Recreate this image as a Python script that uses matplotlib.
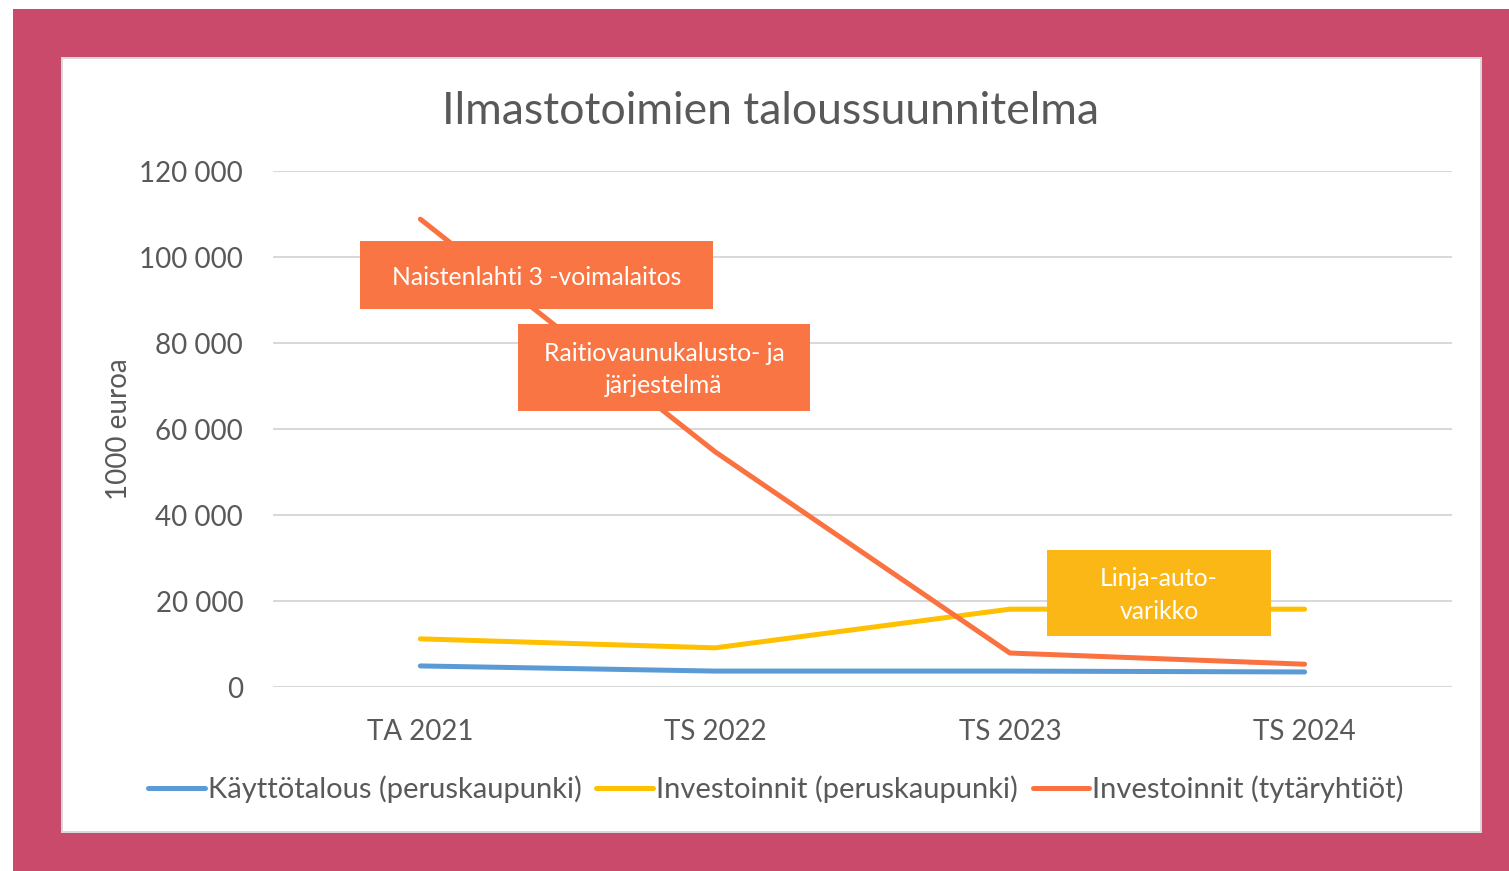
import matplotlib.pyplot as plt
from matplotlib.patches import Rectangle

plt.rcParams['font.family'] = ['Lato', 'DejaVu Sans']

categories = ['TA 2021', 'TS 2022', 'TS 2023', 'TS 2024']
kayttotalous = [4900, 3700, 3700, 3500]
investoinnit_perus = [11200, 9100, 18100, 18100]
investoinnit_tytar = [108800, 54700, 7900, 5300]
series_names = ['Käyttötalous (peruskaupunki)', 'Investoinnit (peruskaupunki)',
                'Investoinnit (tytäryhtiöt)']
yticks = [0, 20000, 40000, 60000, 80000, 100000, 120000]

text_gray = '#595959'
colors = ['#5B9BD5', '#FFC000', '#FB7241']

W, H = 1509, 871
fig = plt.figure(figsize=(W / 100, H / 100), dpi=100)
fig.patch.set_facecolor('white')

# pink frame and white panel (pixel coords of the picture, top-left origin)
def px_rect(x0, y0, x1, y1, **kw):
    return Rectangle((x0 / W, 1 - y1 / H), (x1 - x0) / W, (y1 - y0) / H,
                     transform=fig.transFigure, **kw)

fig.patches.append(px_rect(13, 9, 1509, 871, facecolor='#C94A6B', edgecolor='none', zorder=-12))
fig.patches.append(px_rect(61, 57, 1482, 833, facecolor='#D9D9D9', edgecolor='none', zorder=-11))
fig.patches.append(px_rect(63, 59, 1480, 831, facecolor='white', edgecolor='none', zorder=-10))

ax = fig.add_axes([273 / W, 1 - 687 / H, (1452 - 273) / W, (687 - 171) / H])
ax.set_facecolor('none')

x = [i + 0.5 for i in range(len(categories))]
for vals, c, name in zip([kayttotalous, investoinnit_perus, investoinnit_tytar], colors, series_names):
    ax.plot(x, vals, color=c, lw=3.6, solid_capstyle='round', label=name, zorder=3)

ax.set_xlim(0, 4)
ax.set_ylim(0, 120000)
ax.set_yticks(yticks)
ax.set_yticklabels([f'{v:,}'.replace(',', ' ') for v in yticks])
ax.set_xticks(x)
ax.set_xticklabels(categories)
ax.tick_params(axis='both', length=0, labelsize=20, colors=text_gray)
ax.tick_params(axis='y', pad=21.5)
ax.tick_params(axis='x', pad=23)
ax.grid(axis='y', color='#D9D9D9', lw=1.5)
ax.set_axisbelow(True)
for s in ax.spines.values():
    s.set_visible(False)

ax.set_ylabel('1000 euroa', fontsize=20, color=text_gray)
ax.yaxis.set_label_coords(-0.1196, 0.5)

fig.text(770 / W, 1 - 111 / H, 'Ilmastotoimien taloussuunnitelma', ha='center', va='center',
         fontsize=32, color=text_gray)

# callout boxes
def callout(x0, y0, x1, y1, text, color):
    px = lambda v: (v - 273) / 294.75
    py = lambda v: (687 - v) / 86 * 20000
    ax.add_patch(Rectangle((px(x0), py(y1)), px(x1) - px(x0), py(y0) - py(y1),
                           facecolor=color, edgecolor='none', zorder=5, clip_on=False))
    ax.text((px(x0) + px(x1)) / 2, (py(y0) + py(y1)) / 2 - 500, text, ha='center', va='center',
            color='white', fontsize=17.8, zorder=6, linespacing=1.5)

callout(360, 241, 713, 309, 'Naistenlahti 3 -voimalaitos', '#F97543')
callout(518, 324, 810, 411, 'Raitiovaunukalusto- ja\njärjestelmä', '#F97543')
callout(1047, 550, 1271, 636, 'Linja-auto-\nvarikko', '#FBB716')

fig.legend(loc='center', bbox_to_anchor=(776 / W, 1 - 789 / H), ncol=3, frameon=False,
           fontsize=21, labelcolor=text_gray, handlelength=1.95, handletextpad=0.1,
           columnspacing=0.5)

fig.savefig('out.png', dpi=100)
